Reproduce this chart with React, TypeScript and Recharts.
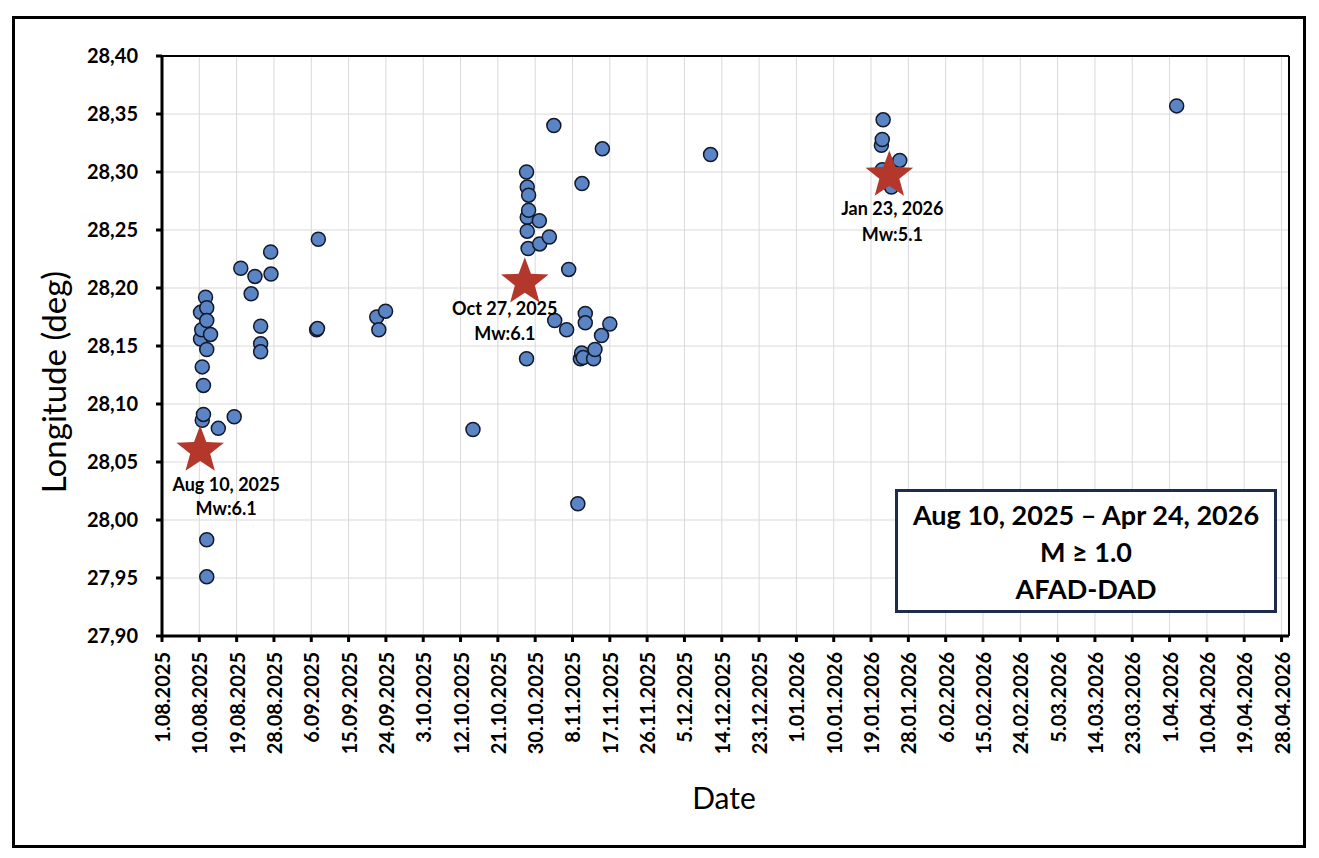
import {
  ScatterChart,
  Scatter,
  XAxis,
  YAxis,
  CartesianGrid,
  ReferenceLine,
} from 'recharts'

const FONT = 'Lato, "Open Sans", sans-serif'

// aftershocks: time (UTC) and longitude
const EVENT_TIMES = [
  '2025-08-10T07:00', '2025-08-10T07:00', '2025-08-10T14:00', '2025-08-10T17:00',
  '2025-08-10T17:00', '2025-08-11T00:00', '2025-08-11T00:00', '2025-08-11T12:00',
  '2025-08-11T19:00', '2025-08-11T19:00', '2025-08-11T19:00', '2025-08-11T19:00',
  '2025-08-11T19:00', '2025-08-12T17:00', '2025-08-14T14:00', '2025-08-18T10:00',
  '2025-08-20T00:00', '2025-08-22T12:00', '2025-08-23T10:00', '2025-08-24T19:00',
  '2025-08-24T19:00', '2025-08-24T19:00', '2025-08-27T05:00', '2025-08-27T07:00',
  '2025-09-07T07:00', '2025-09-07T12:00', '2025-09-07T17:00', '2025-09-21T19:00',
  '2025-09-22T07:00', '2025-09-23T22:00', '2025-10-15T00:00', '2025-10-27T22:00',
  '2025-10-27T22:00', '2025-10-28T02:00', '2025-10-28T02:00', '2025-10-28T02:00',
  '2025-10-28T07:00', '2025-10-28T10:00', '2025-10-28T10:00', '2025-10-31T00:00',
  '2025-10-31T02:00', '2025-11-02T10:00', '2025-11-03T12:00', '2025-11-03T17:00',
  '2025-11-06T14:00', '2025-11-07T02:00', '2025-11-09T07:00', '2025-11-09T22:00',
  '2025-11-10T05:00', '2025-11-10T07:00', '2025-11-10T14:00', '2025-11-11T02:00',
  '2025-11-11T02:00', '2025-11-13T02:00', '2025-11-13T10:00', '2025-11-15T00:00',
  '2025-11-15T05:00', '2025-11-17T00:00', '2025-12-11T07:00', '2026-01-21T12:00',
  '2026-01-21T17:00', '2026-01-21T17:00', '2026-01-21T22:00', '2026-01-23T22:00',
  '2026-01-25T22:00', '2026-04-02T17:00',
]

const EVENT_LON = [
  28.179, 28.156, 28.164, 28.132,
  28.086, 28.116, 28.091, 28.192,
  28.183, 28.172, 28.147, 27.983,
  27.951, 28.16, 28.079, 28.089,
  28.217, 28.195, 28.21, 28.167,
  28.152, 28.145, 28.231, 28.212,
  28.164, 28.165, 28.242, 28.175,
  28.164, 28.18, 28.078, 28.3,
  28.139, 28.287, 28.261, 28.249,
  28.234, 28.28, 28.267, 28.258,
  28.238, 28.244, 28.34, 28.172,
  28.164, 28.216, 28.014, 28.139,
  28.144, 28.29, 28.14, 28.178,
  28.17, 28.139, 28.147, 28.159,
  28.32, 28.169, 28.315, 28.323,
  28.328, 28.302, 28.345, 28.287,
  28.31, 28.357,
]

// mainshocks
const MAIN_TIMES = ['2025-08-10T05:00', '2025-10-27T12:00', '2026-01-23T10:00']
const MAIN_LON = [28.06, 28.205, 28.297]
const MAIN_DATES = ['Aug 10, 2025', 'Oct 27, 2025', 'Jan 23, 2026']
const MAIN_MW = ['Mw:6.1', 'Mw:6.1', 'Mw:5.1']

const X_TICK_LABELS = [
  '1.08.2025', '10.08.2025', '19.08.2025', '28.08.2025', '6.09.2025', '15.09.2025',
  '24.09.2025', '3.10.2025', '12.10.2025', '21.10.2025', '30.10.2025', '8.11.2025',
  '17.11.2025', '26.11.2025', '5.12.2025', '14.12.2025', '23.12.2025', '1.01.2026',
  '10.01.2026', '19.01.2026', '28.01.2026', '6.02.2026', '15.02.2026', '24.02.2026',
  '5.03.2026', '14.03.2026', '23.03.2026', '1.04.2026', '10.04.2026', '19.04.2026',
  '28.04.2026',
]

const Y_TICKS = [27.9, 27.95, 28.0, 28.05, 28.1, 28.15, 28.2, 28.25, 28.3, 28.35, 28.4]

const BOX_LINES = ['Aug 10, 2025 \u2013 Apr 24, 2026', 'M \u2265 1.0', 'AFAD-DAD']

// label placement under each star: [dx, dy line 1, dy line 2]
const STAR_LABEL_POS = [
  [26, 41, 65],
  [-20, 33, 58],
  [3, 40, 66],
]

const DAY = 86400000
const BASE = Date.UTC(2025, 7, 1)
const toDay = (iso: string) => (Date.parse(iso + ':00Z') - BASE) / DAY
const labelToDay = (s: string) => {
  const [d, m, y] = s.split('.').map(Number)
  return (Date.UTC(y, m - 1, d) - BASE) / DAY
}

const X_TICKS = X_TICK_LABELS.map(labelToDay)
const X_MAX = 271.8

const events = EVENT_TIMES.map((t, i) => ({ x: toDay(t), y: EVENT_LON[i] }))
const mainshocks = MAIN_TIMES.map((t, i) => ({ x: toDay(t), y: MAIN_LON[i], i }))

function starPath(cx: number, cy: number, R: number, r: number) {
  let d = ''
  for (let k = 0; k < 10; k++) {
    const rad = k % 2 === 0 ? R : r
    const a = -Math.PI / 2 + (k * Math.PI) / 5
    d += (k === 0 ? 'M' : 'L') + (cx + rad * Math.cos(a)).toFixed(2) + ',' + (cy + rad * Math.sin(a)).toFixed(2)
  }
  return d + 'Z'
}

function Dot(props: any) {
  const { cx, cy } = props
  return <circle cx={cx} cy={cy} r={7} fill="#5b84c5" stroke="#111827" strokeWidth={1.5} />
}

function Star(props: any) {
  const { cx, cy, payload } = props
  const [dx, dy1, dy2] = STAR_LABEL_POS[payload.i]
  const textProps = {
    textAnchor: 'middle' as const,
    fontFamily: FONT,
    fontSize: 18,
    fontWeight: 700,
    fill: '#000',
  }
  return (
    <g>
      <path d={starPath(cx, cy, 25, 10.5)} fill="#b3372b" />
      <text x={cx + dx} y={cy + dy1} {...textProps}>{MAIN_DATES[payload.i]}</text>
      <text x={cx + dx} y={cy + dy2} {...textProps}>{MAIN_MW[payload.i]}</text>
    </g>
  )
}

function DateTick(props: any) {
  const { x, y, payload } = props
  const label = X_TICK_LABELS[X_TICKS.indexOf(payload.value)]
  return (
    <text
      x={x}
      y={y}
      transform={`rotate(-90 ${x} ${y})`}
      textAnchor="end"
      dominantBaseline="central"
      fontFamily={FONT}
      fontSize={20}
      fontWeight={700}
      fill="#000"
    >
      {label}
    </text>
  )
}

export default function App() {
  return (
    <div style={{ position: 'absolute', left: 0, top: 0, width: 1319, height: 858, background: '#fff' }}>
      <div
        style={{
          position: 'absolute',
          left: 12,
          top: 16,
          width: 1294,
          height: 832,
          border: '3px solid #000',
          boxSizing: 'border-box',
        }}
      />
      <div style={{ position: 'absolute', left: 0, top: 0 }}>
        <ScatterChart width={1319} height={858} margin={{ top: 56, right: 30, bottom: 82, left: 82 }}>
          <CartesianGrid stroke="#d9d9d9" strokeWidth={1} />
          <XAxis
            type="number"
            dataKey="x"
            domain={[0, X_MAX]}
            ticks={X_TICKS}
            interval={0}
            height={140}
            tick={<DateTick />}
            tickSize={6}
            tickMargin={10}
            axisLine={{ stroke: '#000', strokeWidth: 3 }}
            tickLine={{ stroke: '#000', strokeWidth: 3 }}
            label={{
              value: 'Date',
              content: () => (
                <text x={724} y={809} textAnchor="middle" fontFamily={FONT} fontSize={30} fill="#000">
                  Date
                </text>
              ),
            }}
          />
          <YAxis
            type="number"
            dataKey="y"
            domain={[27.9, 28.4]}
            ticks={Y_TICKS}
            interval={0}
            width={80}
            tickFormatter={(v: number) => v.toFixed(2).replace('.', ',')}
            tick={{ fill: '#000', fontSize: 20, fontWeight: 700, fontFamily: FONT }}
            tickSize={6}
            tickMargin={18}
            axisLine={{ stroke: '#000', strokeWidth: 3 }}
            tickLine={{ stroke: '#000', strokeWidth: 3 }}
            label={{
              value: 'Longitude (deg)',
              content: () => (
                <text
                  x={53}
                  y={382}
                  transform="rotate(-90 53 382)"
                  textAnchor="middle"
                  dominantBaseline="central"
                  fontFamily={FONT}
                  fontSize={33}
                  fill="#000"
                >
                  Longitude (deg)
                </text>
              ),
            }}
          />
          <ReferenceLine y={28.4} stroke="#000" strokeWidth={2} />
          <ReferenceLine x={X_MAX} stroke="#000" strokeWidth={2} />
          <Scatter data={events} shape={<Dot />} isAnimationActive={false} />
          <Scatter data={mainshocks} shape={<Star />} isAnimationActive={false} />
        </ScatterChart>
      </div>
      <div
        style={{
          position: 'absolute',
          left: 895,
          top: 489,
          width: 382,
          height: 124,
          border: '3px solid #1f2b4a',
          boxSizing: 'border-box',
          background: '#fff',
          display: 'flex',
          flexDirection: 'column',
          justifyContent: 'center',
          alignItems: 'center',
          fontFamily: FONT,
          fontWeight: 700,
          fontSize: 27,
          lineHeight: '37px',
          color: '#000',
        }}
      >
        {BOX_LINES.map((line) => (
          <div key={line}>{line}</div>
        ))}
      </div>
    </div>
  )
}
